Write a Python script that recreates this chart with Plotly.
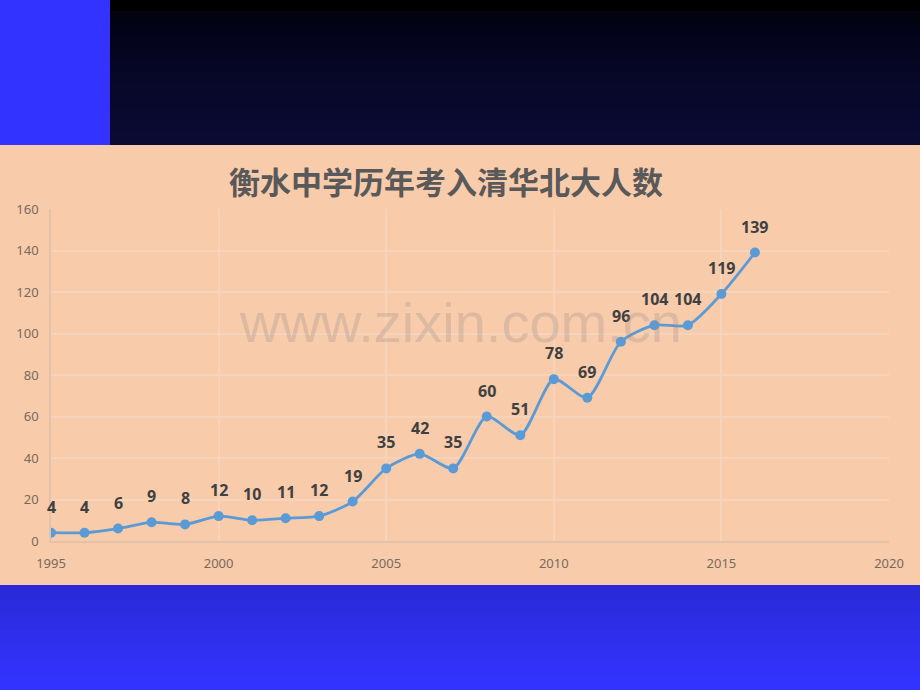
import plotly.graph_objects as go

years = [1995, 1996, 1997, 1998, 1999, 2000, 2001, 2002, 2003, 2004, 2005,
         2006, 2007, 2008, 2009, 2010, 2011, 2012, 2013, 2014, 2015, 2016]
counts = [4, 4, 6, 9, 8, 12, 10, 11, 12, 19, 35,
          42, 35, 60, 51, 78, 69, 96, 104, 104, 119, 139]
x_ticks = [1995, 2000, 2005, 2010, 2015, 2020]
y_ticks = [0, 20, 40, 60, 80, 100, 120, 140, 160]
title_text = "衡水中学历年考入清华北大人数"
watermark = "www.zixin.com.cn"

W, H = 920, 690
L, R, T, B = 51, 889, 209, 541
pw, ph = R - L, B - T

def px(xp):
    return (xp - L) / pw

def py(yp):
    return (B - yp) / ph

PEACH = "#f8cbab"
GRID = "#f6d3bb"
TICK = "#7a6a5c"
LINE = "#5b9bd5"

fig = go.Figure()
fig.add_trace(go.Scatter(
    x=years, y=counts, mode="lines+markers",
    line=dict(color=LINE, width=2.75, shape="spline", smoothing=0.7),
    marker=dict(color=LINE, size=10),
    hoverinfo="x+y", showlegend=False,
))

annotations = []
for xv, yv in zip(years, counts):
    annotations.append(dict(
        x=xv, y=yv, xref="x", yref="y", text=f"<b>{yv}</b>",
        showarrow=False, yshift=26,
        font=dict(family="Noto Sans, DejaVu Sans", size=16, color="#404040"),
    ))

annotations.append(dict(
    x=px(446), y=py(180), xref="paper", yref="paper", text=f"<b>{title_text}</b>",
    showarrow=False, xanchor="center", yanchor="middle",
    font=dict(family="Noto Sans CJK SC", size=31, color="#595959"),
))

annotations.append(dict(
    x=px(460), y=py(322), xref="paper", yref="paper", text=watermark,
    showarrow=False, xanchor="center", yanchor="middle",
    font=dict(family="Arial, Liberation Sans", size=56, color="rgba(150,140,135,0.28)"),
))

shapes = []
# top dark gradient band (approximated by overlapping strips)
top_cols = ["#000000", "#020210", "#030318", "#04041c", "#050520", "#060624",
            "#070727", "#08082a", "#08082c", "#09092f", "#0a0a31", "#0a0a33"]
n = len(top_cols)
for i in range(n):
    y0 = 145 * i / n
    y1 = 145 * (i + 1) / n + (2 if i < n - 1 else 0)
    shapes.append(dict(type="rect", xref="paper", yref="paper",
                       x0=px(0), x1=px(W + 1), y0=py(y1), y1=py(y0 - 1),
                       fillcolor=top_cols[i], line=dict(width=0), layer="above"))
# left blue strip on top
shapes.append(dict(type="rect", xref="paper", yref="paper",
                   x0=px(-1), x1=px(110), y0=py(145), y1=py(-1),
                   fillcolor="#3333ff", line=dict(width=0), layer="above"))
# bottom blue gradient
bot_cols = ["#2a2ad8", "#2b2bdf", "#2d2de6", "#2e2eec", "#3030f2", "#3131f8", "#3333ff"]
nb = len(bot_cols)
for i in range(nb):
    y0 = 585 + (H - 585) * i / nb
    y1 = 585 + (H - 585) * (i + 1) / nb + 2
    shapes.append(dict(type="rect", xref="paper", yref="paper",
                       x0=px(-1), x1=px(W + 1), y0=py(y1), y1=py(y0),
                       fillcolor=bot_cols[i], line=dict(width=0), layer="above"))

fig.update_layout(
    width=W, height=H,
    margin=dict(l=L, r=W - R, t=T, b=H - B, pad=0),
    paper_bgcolor=PEACH, plot_bgcolor=PEACH,
    annotations=annotations, shapes=shapes,
    xaxis=dict(range=[1995, 2020], tickvals=x_ticks, ticktext=[str(v) for v in x_ticks],
               showgrid=True, gridcolor=GRID, gridwidth=1.5, zeroline=False,
               showline=True, linecolor="#e3c2aa", linewidth=1.5,
               ticks="", ticklabelstandoff=10,
               tickfont=dict(family="Noto Sans, DejaVu Sans", size=13, color=TICK)),
    yaxis=dict(range=[0, 160], tickvals=y_ticks, showgrid=True, gridcolor=GRID, gridwidth=1.5,
               zeroline=False, showline=True, linecolor="#e3c2aa", linewidth=1.5,
               ticks="", ticklabelstandoff=8,
               tickfont=dict(family="Noto Sans, DejaVu Sans", size=13, color=TICK)),
)

fig.write_html("out.html", config={"displayModeBar": False},
               post_script="document.body.style.margin='0';document.body.style.overflow='hidden';")
